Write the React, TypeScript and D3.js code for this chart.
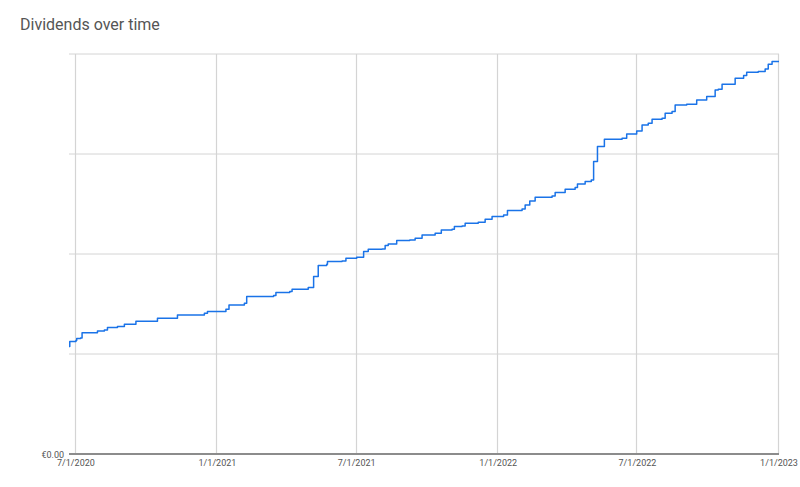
import React from "react";
import * as d3 from "d3";

const dates: string[] = [
  "2020-06-22","2020-06-23","2020-07-01","2020-07-02","2020-07-07","2020-07-09","2020-07-29","2020-08-07",
  "2020-08-11","2020-08-24","2020-09-02","2020-09-17","2020-10-15","2020-11-10","2020-12-15","2020-12-19",
  "2021-01-12","2021-01-16","2021-02-05","2021-02-08","2021-03-15","2021-03-18","2021-04-05","2021-04-08",
  "2021-04-29","2021-05-06","2021-05-12","2021-05-23","2021-05-24","2021-06-12","2021-06-17","2021-07-01",
  "2021-07-10","2021-07-16","2021-08-03","2021-08-07","2021-08-11","2021-08-22","2021-09-08","2021-09-15",
  "2021-09-24","2021-10-11","2021-10-19","2021-11-02","2021-11-05","2021-11-15","2021-11-19","2021-12-06",
  "2021-12-15","2021-12-24","2022-01-08","2022-01-13","2022-02-01","2022-02-05","2022-02-11","2022-02-18",
  "2022-03-12","2022-03-16","2022-03-29","2022-04-11","2022-04-14","2022-04-24","2022-05-02","2022-05-05",
  "2022-05-08","2022-05-10","2022-05-15","2022-05-19","2022-06-11","2022-06-17","2022-06-30","2022-07-07",
  "2022-07-15","2022-07-20","2022-08-02","2022-08-06","2022-08-15","2022-08-19","2022-09-03","2022-09-16",
  "2022-09-29","2022-10-10","2022-10-14","2022-10-19","2022-11-01","2022-11-05","2022-11-16","2022-11-20",
  "2022-12-05","2022-12-14","2022-12-18","2022-12-23","2023-01-01",
];

const dividends: number[] = [
  537, 562, 567, 578, 580, 606, 615, 620,
  632, 637, 649, 664, 679, 695, 704, 712,
  724, 745, 754, 787, 792, 807, 812, 824,
  832, 887, 942, 949, 962, 965, 979, 984,
  1012, 1024, 1025, 1042, 1050, 1067, 1070, 1079,
  1095, 1104, 1120, 1124, 1137, 1140, 1154, 1159,
  1174, 1187, 1195, 1217, 1225, 1245, 1265, 1284,
  1290, 1307, 1324, 1332, 1350, 1362, 1370, 1462,
  1462, 1537, 1537, 1574, 1579, 1600, 1615, 1645,
  1654, 1674, 1679, 1704, 1712, 1745, 1749, 1770,
  1787, 1820, 1824, 1849, 1849, 1879, 1892, 1909,
  1912, 1925, 1949, 1962, 1962,
];

const xTickLabels: string[] = ["2020-07-01", "2021-01-01", "2021-07-01", "2022-01-01", "2022-07-01", "2023-01-01"];
const yTicks: number[] = [0, 500, 1000, 1500, 2000];
const title = "Dividends over time";

const parse = d3.utcParse("%Y-%m-%d");
const fmt = d3.utcFormat("%-m/%-d/%Y");

export default function App() {
  const W = 800, H = 487;
  const left = 69, right = 779, top = 54, bottom = 454;
  const pts = dates.map((d, i) => ({ d: parse(d) as Date, v: dividends[i] }));
  const x = d3.scaleUtc().domain([parse(dates[0]) as Date, parse(dates[dates.length - 1]) as Date]).range([left, right]);
  const y = d3.scaleLinear().domain([0, 2000]).range([bottom, top]);
  const line = d3.line<{ d: Date; v: number }>().x((p) => x(p.d)).y((p) => y(p.v)).curve(d3.curveStepAfter);
  const font = "Roboto, 'Noto Sans', Arial, sans-serif";
  return (
    <svg width={W} height={H} style={{ position: "absolute", left: 0, top: 0, background: "#fff" }} fontFamily={font}>
      <rect x={0} y={0} width={W} height={H} fill="#fff" />
      <text x={20} y={30} fontSize={16} fill="#555">{title}</text>
      {yTicks.filter((t) => t > 0).map((t) => (
        <line key={"h" + t} x1={left} x2={right} y1={y(t)} y2={y(t)} stroke="#d4d4d4" strokeWidth={1} />
      ))}
      {xTickLabels.map((s) => {
        const xv = Math.round(x(parse(s) as Date)) - 0.5;
        return <line key={"v" + s} x1={xv} x2={xv} y1={top} y2={bottom} stroke="#d4d4d4" strokeWidth={1.2} />;
      })}
      <path d={line(pts) || ""} fill="none" stroke="#1a73e8" strokeWidth={1.5} strokeLinejoin="round" />
      <line x1={left} x2={right} y1={bottom} y2={bottom} stroke="#8c8c8c" strokeWidth={2} />
      <text x={64} y={457.5} fontSize={9} fill="#555" textAnchor="end">€0.00</text>
      {xTickLabels.map((s) => (
        <text key={"t" + s} x={x(parse(s) as Date)} y={466} fontSize={9} fill="#555" textAnchor="middle">{fmt(parse(s) as Date)}</text>
      ))}
    </svg>
  );
}
